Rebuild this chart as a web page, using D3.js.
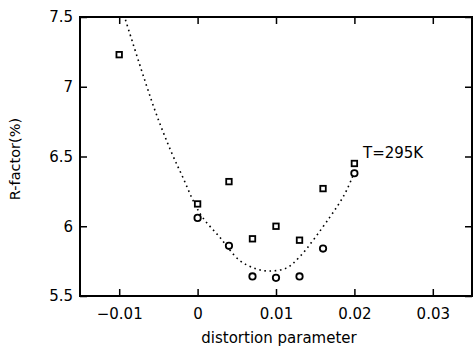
<!DOCTYPE html>
<html><head><meta charset="utf-8">
<script src="https://cdn.jsdelivr.net/npm/d3@7"></script>
<style>body{margin:0;background:#fff}svg{display:block}text{font-family:"DejaVu Sans",sans-serif;fill:#000}</style>
</head><body><svg id="c" width="473" height="348"></svg>
<script>
const xTicks = [-0.01, 0, 0.01, 0.02, 0.03];
const xTickLabels = ["\u22120.01", "0", "0.01", "0.02", "0.03"];
const yTicks = [5.5, 6, 6.5, 7, 7.5];
const yTickLabels = ["5.5", "6", "6.5", "7", "7.5"];
const squareX = [-0.01, 0, 0.004, 0.007, 0.01, 0.013, 0.016, 0.02];
const squareY = [7.23, 6.16, 6.32, 5.91, 6.0, 5.90, 6.27, 6.45];
const circleX = [0, 0.004, 0.007, 0.01, 0.013, 0.016, 0.02];
const circleY = [6.06, 5.86, 5.64, 5.63, 5.64, 5.84, 6.38];
const curveX = [-0.0092, -0.0055, -0.0033, -0.0019, -0.0006, 0.0006, 0.0028, 0.0053, 0.0075, 0.0092, 0.0113, 0.013, 0.0168, 0.0187, 0.0197, 0.0201];
const curveY = [7.48, 6.84, 6.525, 6.353, 6.188, 6.066, 5.923, 5.758, 5.694, 5.679, 5.70, 5.78, 6.06, 6.224, 6.346, 6.40];
const annotation = "T=295K";
const xLabel = "distortion parameter";
const yLabel = "R-factor(%)";

const svg = d3.select("#c");
const L = 80, R = 472, T = 17, B = 296;
const x = d3.scaleLinear().domain([-0.015, 0.035]).range([L, R]);
const y = d3.scaleLinear().domain([5.5, 7.5]).range([B, T]);

svg.append("rect").attr("x", L).attr("y", T).attr("width", R - L).attr("height", B - T)
  .attr("fill", "none").attr("stroke", "#000").attr("stroke-width", 2);

const fmtX = d => xTickLabels[xTicks.indexOf(d)];
const fmtY = d => yTickLabels[yTicks.indexOf(d)];

const axB = svg.append("g").attr("transform", `translate(0,${B})`)
  .call(d3.axisBottom(x).tickValues(xTicks).tickFormat(fmtX).tickSizeInner(-7).tickSizeOuter(0).tickPadding(12));
const axT = svg.append("g").attr("transform", `translate(0,${T})`)
  .call(d3.axisTop(x).tickValues(xTicks).tickFormat("").tickSizeInner(-7).tickSizeOuter(0));
const axL = svg.append("g").attr("transform", `translate(${L},0)`)
  .call(d3.axisLeft(y).tickValues(yTicks).tickFormat(fmtY).tickSizeInner(-7).tickSizeOuter(0).tickPadding(7));
const axR = svg.append("g").attr("transform", `translate(${R},0)`)
  .call(d3.axisRight(y).tickValues(yTicks).tickFormat("").tickSizeInner(-7).tickSizeOuter(0));
[axB, axT, axL, axR].forEach(a => {
  a.select(".domain").remove();
  a.selectAll("line").attr("stroke", "#000").attr("stroke-width", 1.5);
  a.selectAll("text").attr("font-size", 15).attr("font-family", "DejaVu Sans").attr("fill", "#000");
});

const cdata = curveX.map((v, i) => [v, curveY[i]]);
svg.append("path").datum(cdata)
  .attr("d", d3.line().x(d => x(d[0])).y(d => y(d[1])).curve(d3.curveCatmullRom))
  .attr("fill", "none").attr("stroke", "#000").attr("stroke-width", 1.6)
  .attr("stroke-dasharray", "1.6,3.6");

const s = 5.5;
svg.selectAll(".sq").data(squareX.map((v, i) => [v, squareY[i]])).enter().append("rect")
  .attr("x", d => x(d[0]) - s / 2).attr("y", d => y(d[1]) - s / 2)
  .attr("width", s).attr("height", s)
  .attr("fill", "#fff").attr("stroke", "#000").attr("stroke-width", 1.8);

svg.selectAll(".ci").data(circleX.map((v, i) => [v, circleY[i]])).enter().append("circle")
  .attr("cx", d => x(d[0])).attr("cy", d => y(d[1])).attr("r", 3.2)
  .attr("fill", "#fff").attr("stroke", "#000").attr("stroke-width", 1.8);

svg.append("text").attr("x", 363).attr("y", 158).attr("font-size", 15).text(annotation);
svg.append("text").attr("x", 279).attr("y", 343).attr("text-anchor", "middle")
  .attr("font-size", 15).text(xLabel);
svg.append("text").attr("transform", "translate(20,159) rotate(-90)").attr("text-anchor", "middle")
  .attr("font-size", 14.5).text(yLabel);
</script></body></html>
